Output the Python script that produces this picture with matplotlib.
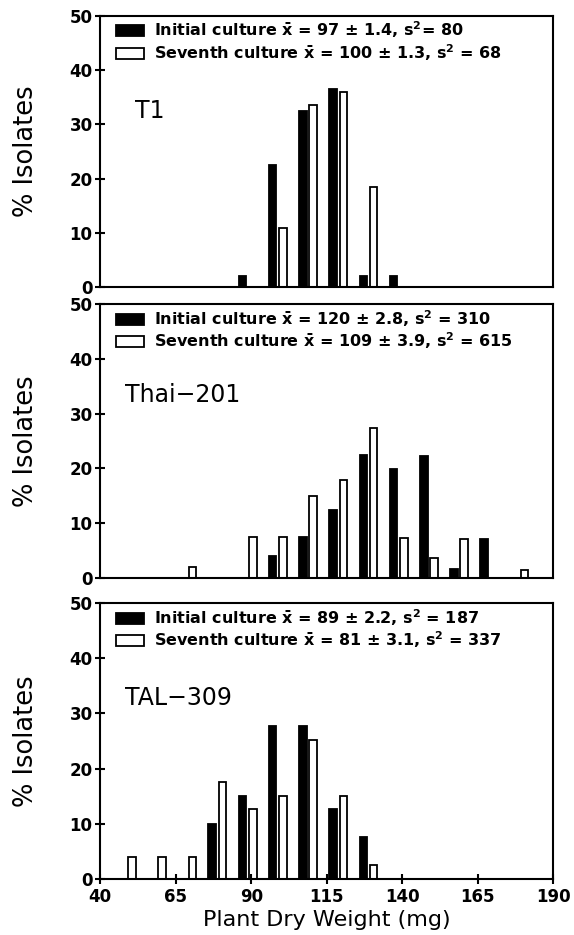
import matplotlib
matplotlib.use('Agg')
import matplotlib.pyplot as plt
from matplotlib.patches import Patch
import numpy as np

# weight classes (mg), one per 10 mg
bin_centers = [50, 60, 70, 80, 90, 100, 110, 120, 130, 140, 150, 160, 170, 180]

# % isolates per class, initial / seventh culture
t1_initial = [0, 0, 0, 0, 2.0, 22.5, 32.5, 36.5, 2.0, 2.0, 0, 0, 0, 0]
t1_seventh = [0, 0, 0, 0, 0, 11.0, 33.5, 36.0, 18.5, 0, 0, 0, 0, 0]

thai_initial = [0, 0, 0, 0, 0, 3.9, 7.4, 12.4, 22.4, 19.9, 22.3, 1.6, 7.1, 0]
thai_seventh = [0, 0, 1.9, 0, 7.4, 7.4, 14.9, 17.9, 27.3, 7.2, 3.6, 7.1, 0, 1.5]

tal_initial = [0, 0, 0, 10.0, 15.0, 27.7, 27.8, 12.6, 7.5, 0, 0, 0, 0, 0]
tal_seventh = [3.9, 3.9, 3.9, 17.6, 12.6, 15.0, 25.2, 15.0, 2.5, 0, 0, 0, 0, 0]

panel_names = ['T1', 'Thai\u2212201', 'TAL\u2212309']
legend_initial = [r'Initial culture $\bar{x}$ = 97 $\pm$ 1.4, s$^2$= 80',
                  r'Initial culture $\bar{x}$ = 120 $\pm$ 2.8, s$^2$ = 310',
                  r'Initial culture $\bar{x}$ = 89 $\pm$ 2.2, s$^2$ = 187']
legend_seventh = [r'Seventh culture $\bar{x}$ = 100 $\pm$ 1.3, s$^2$ = 68',
                  r'Seventh culture $\bar{x}$ = 109 $\pm$ 3.9, s$^2$ = 615',
                  r'Seventh culture $\bar{x}$ = 81 $\pm$ 3.1, s$^2$ = 337']

x_ticks = [40, 65, 90, 115, 140, 165, 190]
y_ticks = [0, 10, 20, 30, 40, 50]

plt.rcParams['font.family'] = ['DejaVu Sans']
plt.rcParams['mathtext.fontset'] = 'dejavusans'
plt.rcParams['mathtext.default'] = 'bf'

figure = plt.figure(figsize=(5.74, 9.35), dpi=100)

panel_rects = [[0.1745, 0.6927, 0.7895, 0.2905],
               [0.1745, 0.3821, 0.7895, 0.2924],
               [0.1745, 0.0602, 0.7895, 0.2945]]
panel_data = [(t1_initial, t1_seventh), (thai_initial, thai_seventh), (tal_initial, tal_seventh)]
label_y = [0.623, 0.644, 0.631]
label_x = [0.077, 0.055, 0.055]

centers = np.array(bin_centers)

for i in range(3):
    axes = figure.add_axes(panel_rects[i])
    initial, seventh = panel_data[i]

    initial = np.array(initial)
    seventh = np.array(seventh)
    keep_i = initial > 0
    keep_s = seventh > 0

    axes.bar(centers[keep_i] - 2.9, initial[keep_i], width=2.5, color='black',
             edgecolor='black', linewidth=1.3)
    axes.bar(centers[keep_s] + 0.5, seventh[keep_s], width=2.5, color='white',
             edgecolor='black', linewidth=1.3)

    axes.set_xlim(40, 190)
    axes.set_ylim(0, 50)
    axes.set_yticks(y_ticks)
    axes.set_xticks(x_ticks)

    for spine in axes.spines.values():
        spine.set_linewidth(1.5)

    axes.tick_params(axis='y', direction='inout', length=7, width=1.5, labelsize=12, pad=2)
    axes.tick_params(axis='x', direction='inout', length=7, width=1.5, labelsize=12, pad=3)
    for lab in axes.get_yticklabels() + axes.get_xticklabels():
        lab.set_fontweight('bold')

    if i < 2:
        axes.tick_params(axis='x', bottom=False, labelbottom=False)
    else:
        axes.set_xlabel('Plant Dry Weight (mg)', fontsize=16, labelpad=3)

    axes.set_ylabel('% Isolates', fontsize=18.5)
    axes.yaxis.set_label_coords(-0.135, 0.5)

    axes.text(label_x[i], label_y[i], panel_names[i], transform=axes.transAxes, fontsize=17)

    handles = [Patch(facecolor='black', edgecolor='black', linewidth=1.3),
               Patch(facecolor='white', edgecolor='black', linewidth=1.3)]
    axes.legend(handles, [legend_initial[i], legend_seventh[i]], loc='upper left',
                bbox_to_anchor=(0.035, 0.985), frameon=False, borderpad=0, borderaxespad=0,
                handlelength=1.75, handleheight=0.7, handletextpad=0.6, labelspacing=0.1,
                prop={'size': 11.5, 'weight': 'bold'})

figure.savefig('out.png', dpi=100)
